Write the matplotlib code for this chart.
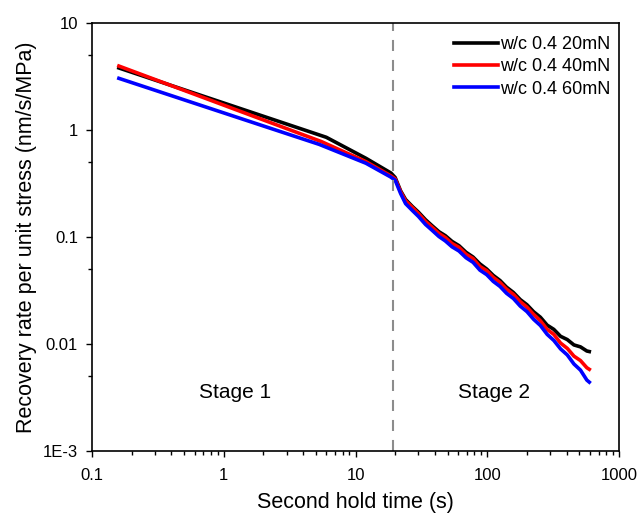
import matplotlib
matplotlib.use("Agg")
import matplotlib.pyplot as plt
from matplotlib.ticker import FixedLocator, FixedFormatter, NullFormatter

plt.rcParams["font.family"] = ["Liberation Sans", "DejaVu Sans"]

# hold time (s), stage 1 points read per series, stage 2 on a shared grid
t_stage2 = [20, 22, 24, 27, 30, 34, 38, 43, 48, 54, 61, 69, 78, 88, 99, 111,
            125, 140, 158, 178, 200, 225, 253, 285, 320, 360, 405, 455, 510,
            570, 595]

t1_20mN = [0.16, 6.0, 12.0, 18.6]
r1_20mN = [3.80, 0.855, 0.544, 0.396]
r2_20mN = [0.36, 0.27, 0.224, 0.193, 0.171, 0.145, 0.128, 0.112, 0.103,
           0.091, 0.083, 0.072, 0.065, 0.056, 0.0502, 0.0438, 0.0392, 0.0340,
           0.0303, 0.0260, 0.0233, 0.0200, 0.0178, 0.0150, 0.0137, 0.0118,
           0.0110, 0.0098, 0.0094, 0.0086, 0.0085]

t1_40mN = [0.16, 5.5, 12.0, 18.6]
r1_40mN = [3.96, 0.78, 0.506, 0.372]
r2_40mN = [0.35, 0.265, 0.218, 0.189, 0.166, 0.140, 0.124, 0.108, 0.099,
           0.087, 0.080, 0.069, 0.063, 0.053, 0.0485, 0.0420, 0.0376, 0.0326,
           0.0291, 0.0249, 0.0221, 0.0189, 0.0165, 0.0137, 0.0123, 0.0102,
           0.0091, 0.0077, 0.0070, 0.0060, 0.0058]

t1_60mN = [0.16, 5.3, 12.0, 18.4]
r1_60mN = [3.04, 0.734, 0.489, 0.365]
r2_60mN = [0.34, 0.255, 0.205, 0.177, 0.156, 0.131, 0.116, 0.101, 0.092,
           0.081, 0.074, 0.064, 0.058, 0.049, 0.0445, 0.0385, 0.0345, 0.0298,
           0.0266, 0.0226, 0.0201, 0.0170, 0.0149, 0.0123, 0.0108, 0.0090,
           0.0079, 0.0065, 0.0057, 0.0046, 0.0044]

labels = ["w/c 0.4 20mN", "w/c 0.4 40mN", "w/c 0.4 60mN"]
colors = ["black", "red", "blue"]

stage_boundary = 19.3
y_ticks = [1e-3, 1e-2, 1e-1, 1, 10]
y_ticklabels = ["1E-3", "0.01", "0.1", "1", "10"]
x_ticks = [0.1, 1, 10, 100, 1000]
x_ticklabels = ["0.1", "1", "10", "100", "1000"]

fig = plt.figure(figsize=(6.41, 5.17), dpi=100)
ax = fig.add_axes([92 / 641, 1 - 451 / 517, 527 / 641, 428 / 517])

series = [(t1_20mN, r1_20mN, r2_20mN),
          (t1_40mN, r1_40mN, r2_40mN),
          (t1_60mN, r1_60mN, r2_60mN)]
for (t1, r1, r2), lab, c in zip(series, labels, colors):
    ax.plot(t1 + t_stage2, r1 + r2, color=c, lw=2.6, label=lab,
            solid_joinstyle="round")

ax.axvline(stage_boundary, color="#8c8c8c", lw=1.5, ls=(0, (5.3, 4.3)))

ax.set_xscale("log")
ax.set_yscale("log")
ax.set_xlim(0.1, 1000)
ax.set_ylim(1e-3, 10)

ax.xaxis.set_major_locator(FixedLocator(x_ticks))
ax.xaxis.set_major_formatter(FixedFormatter(x_ticklabels))
ax.xaxis.set_minor_locator(FixedLocator(
    [m * 10.0 ** e for e in range(-1, 3) for m in range(2, 10)]))
ax.xaxis.set_minor_formatter(NullFormatter())
ax.yaxis.set_major_locator(FixedLocator(y_ticks))
ax.yaxis.set_major_formatter(FixedFormatter(y_ticklabels))
ax.yaxis.set_minor_locator(FixedLocator([5 * 10.0 ** e for e in range(-3, 1)]))
ax.yaxis.set_minor_formatter(NullFormatter())

ax.tick_params(which="both", direction="out", width=1.0, labelsize=12,
               top=False, right=False)
ax.tick_params(which="major", length=4.5)
ax.tick_params(which="minor", length=2.8)
ax.tick_params(axis="x", which="major", pad=7.5)
ax.tick_params(axis="y", which="major", pad=5.5)
for s in ax.spines.values():
    s.set_linewidth(1.2)

ax.set_xlabel("Second hold time (s)", fontsize=15.5, labelpad=7)
ax.set_ylabel("Recovery rate per unit stress (nm/s/MPa)", fontsize=15.5,
              labelpad=4)

ax.text(1.22, 0.0035, "Stage 1", fontsize=15, ha="center", va="center")
ax.text(112, 0.0035, "Stage 2", fontsize=15, ha="center", va="center")

ax.legend(loc="upper right", bbox_to_anchor=(1.0, 0.991), frameon=False,
          fontsize=13, handlelength=2.4, handletextpad=0.1, labelspacing=0.3,
          borderaxespad=0.3, borderpad=0.2)

fig.savefig("out.png", dpi=100)
